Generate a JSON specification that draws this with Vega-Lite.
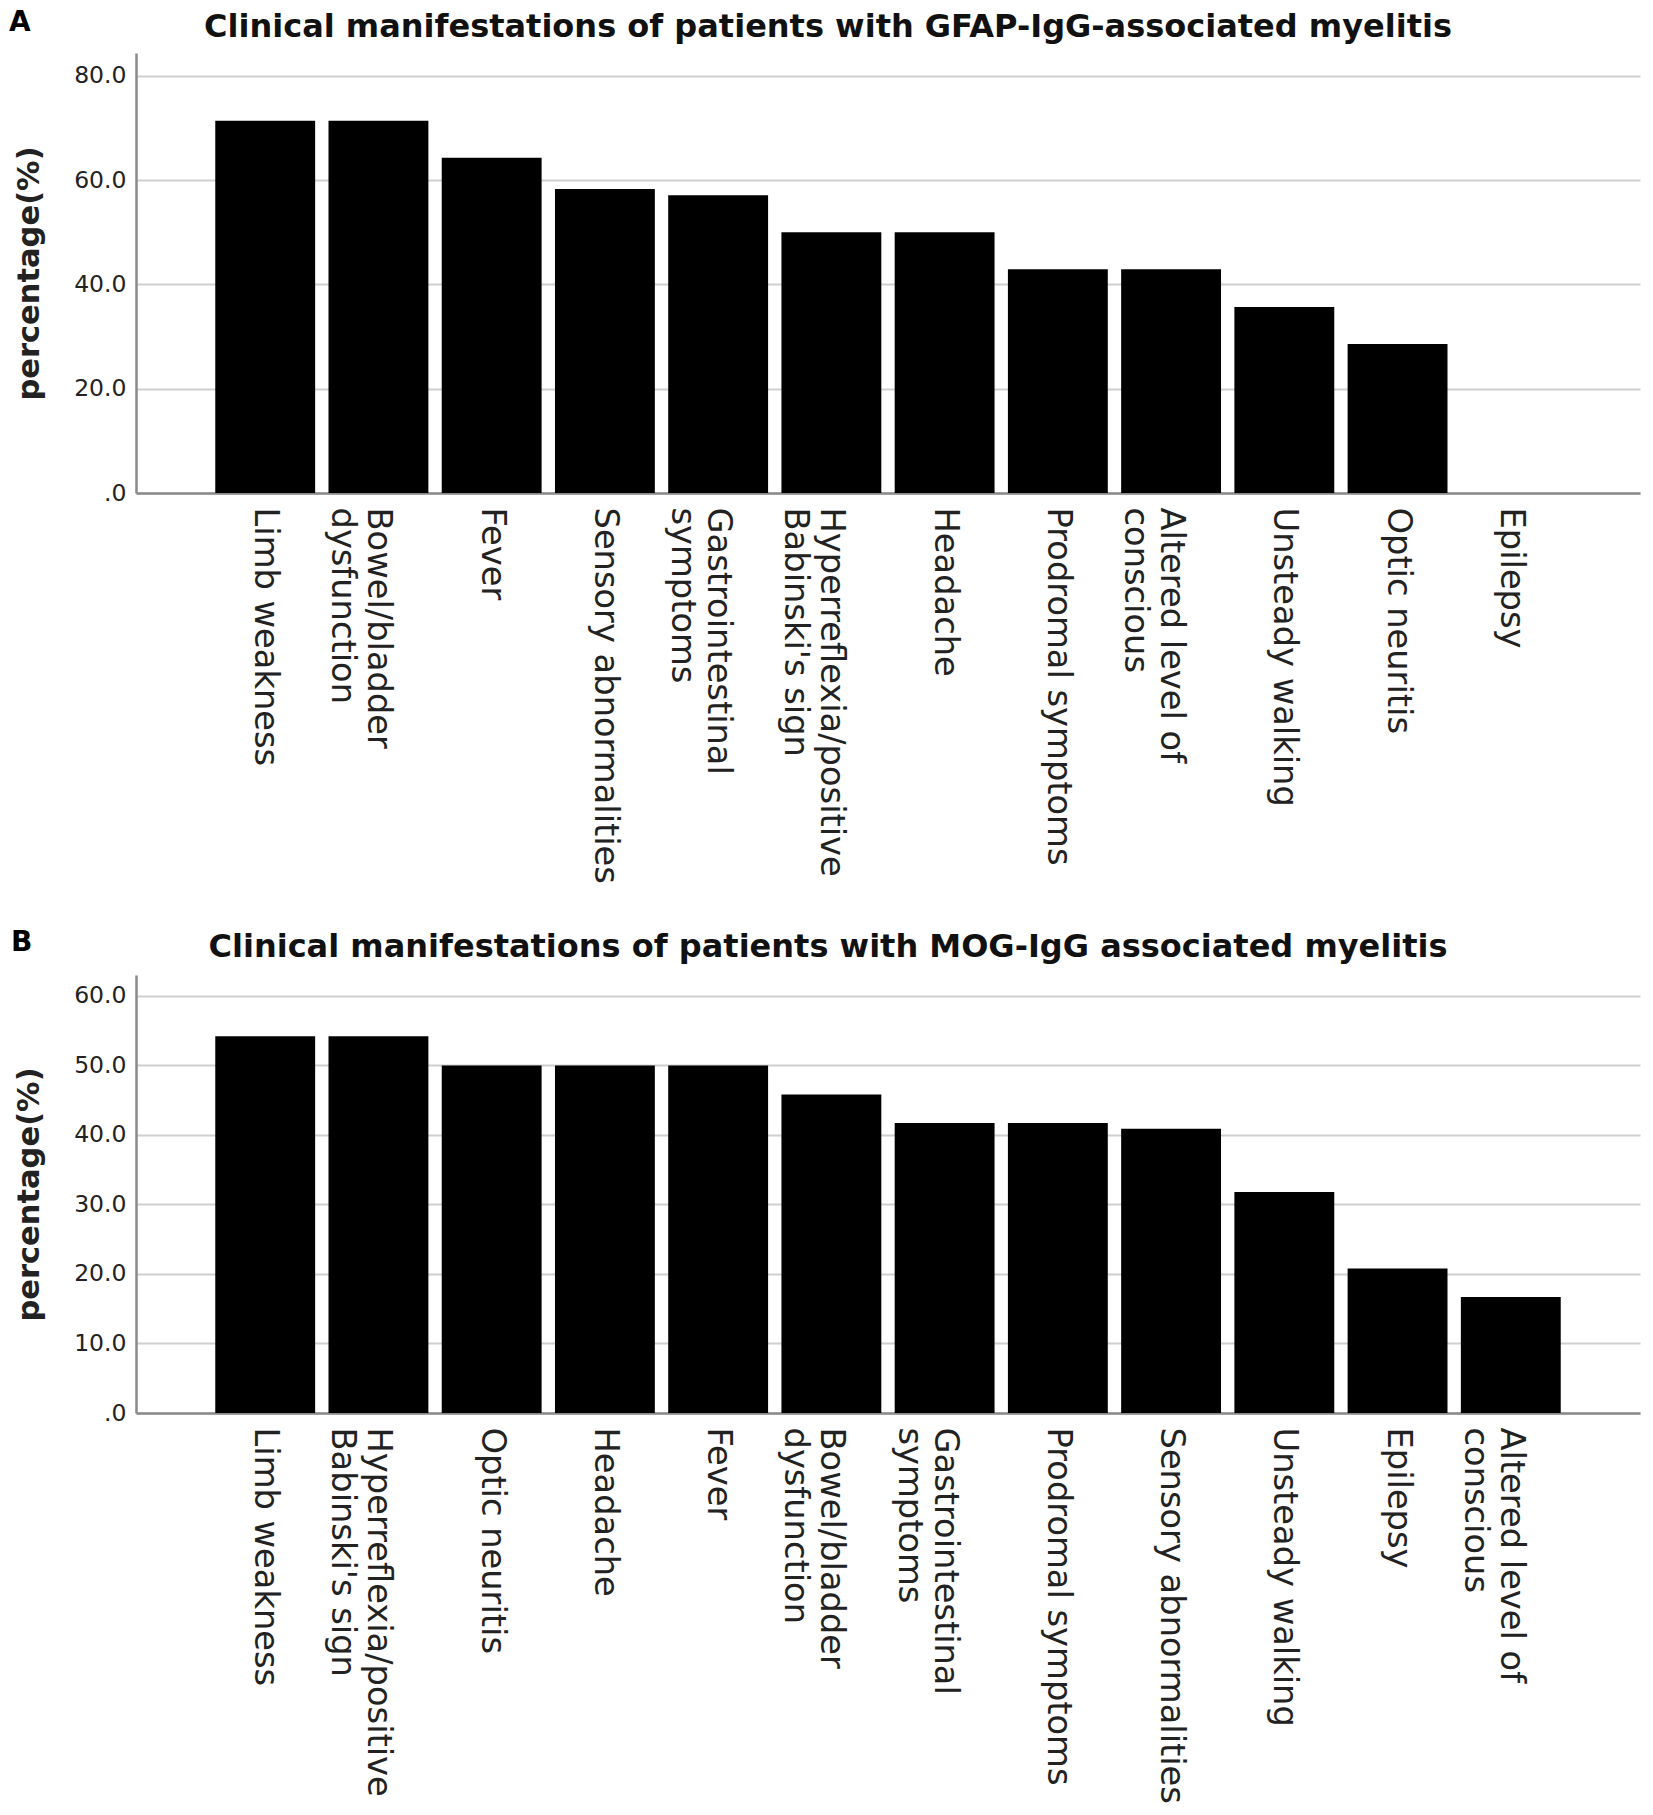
{
  "$schema": "https://vega.github.io/schema/vega-lite/v6.json",
  "background": "white",
  "padding": {"left": 8, "top": 9, "right": 5, "bottom": 0},
  "spacing": 45,
  "config": {
    "font": "DejaVu Sans",
    "view": {"stroke": null},
    "axis": {"labelColor": "#222222", "titleColor": "#222222"},
    "title": {"color": "#111111"}
  },
  "datasets": {
    "gfap": [
      {"symptom": "Limb weakness", "pct": 71.4},
      {"symptom": "Bowel/bladder dysfunction", "pct": 71.4},
      {"symptom": "Fever", "pct": 64.3},
      {"symptom": "Sensory abnormalities", "pct": 58.3},
      {"symptom": "Gastrointestinal symptoms", "pct": 57.1},
      {"symptom": "Hyperreflexia/positive Babinski's sign", "pct": 50.0},
      {"symptom": "Headache", "pct": 50.0},
      {"symptom": "Prodromal symptoms", "pct": 42.9},
      {"symptom": "Altered level of conscious", "pct": 42.9},
      {"symptom": "Unsteady walking", "pct": 35.7},
      {"symptom": "Optic neuritis", "pct": 28.6},
      {"symptom": "Epilepsy", "pct": 0}
    ],
    "mog": [
      {"symptom": "Limb weakness", "pct": 54.2},
      {"symptom": "Hyperreflexia/positive Babinski's sign", "pct": 54.2},
      {"symptom": "Optic neuritis", "pct": 50.0},
      {"symptom": "Headache", "pct": 50.0},
      {"symptom": "Fever", "pct": 50.0},
      {"symptom": "Bowel/bladder dysfunction", "pct": 45.8},
      {"symptom": "Gastrointestinal symptoms", "pct": 41.7},
      {"symptom": "Prodromal symptoms", "pct": 41.7},
      {"symptom": "Sensory abnormalities", "pct": 40.9},
      {"symptom": "Unsteady walking", "pct": 31.8},
      {"symptom": "Epilepsy", "pct": 20.8},
      {"symptom": "Altered level of conscious", "pct": 16.7}
    ]
  },
  "vconcat": [
    {
      "title": {"text": "A", "anchor": "start", "offset": -26, "baseline": "top", "dx": -5, "fontSize": 28, "fontWeight": "bold", "color": "#000000"},
      "vconcat": [
        {
          "data": {"name": "gfap"},
          "width": 1504,
          "height": 440,
          "title": {"text": "Clinical manifestations of patients with GFAP-IgG-associated myelitis", "anchor": "middle", "offset": -16, "dx": -60, "baseline": "alphabetic", "fontSize": 32, "fontWeight": "bold"},
          "mark": {"type": "bar", "color": "#000000"},
          "encoding": {
            "x": {
              "field": "symptom", "type": "nominal", "sort": null,
              "scale": {"paddingInner": 0.118, "paddingOuter": 0.7},
              "axis": {
                "title": null, "labelAngle": 90, "labelAlign": "left", "labelBaseline": "middle",
                "labelFontSize": 33.7, "labelLineHeight": 36, "labelPadding": 14, "labelLimit": 1000,
                "ticks": false, "domainColor": "#8a8a8a", "domainWidth": 2.5,
                "labelExpr": "datum.label == 'Bowel/bladder dysfunction' ? ['Bowel/bladder', 'dysfunction'] : datum.label == 'Gastrointestinal symptoms' ? ['Gastrointestinal', 'symptoms'] : indexof(datum.label, 'Hyperreflexia') == 0 ? ['Hyperreflexia/positive', \"Babinski's sign\"] : datum.label == 'Altered level of conscious' ? ['Altered level of', 'conscious'] : datum.label"
              }
            },
            "y": {
              "field": "pct", "type": "quantitative",
              "scale": {"domain": [0, 84.4], "nice": false},
              "axis": {
                "title": "percentage(%)", "titleFontSize": 30.5, "titleFontWeight": "bold",
                "titleX": -107, "titleY": 220, "titleAlign": "center", "titleBaseline": "middle", "titleAngle": -90,
                "values": [0, 20, 40, 60, 80],
                "labelExpr": "datum.value == 0 ? '.0' : format(datum.value, '.1f')",
                "labelFontSize": 23.5, "labelPadding": 10, "ticks": false,
                "domainColor": "#8a8a8a", "domainWidth": 2.5,
                "grid": true, "gridColor": "#cfcfcf", "gridWidth": 2
              }
            }
          }
        }
      ]
    },
    {
      "title": {"text": "B", "anchor": "start", "offset": -26, "baseline": "top", "dx": -3, "fontSize": 28, "fontWeight": "bold", "color": "#000000"},
      "vconcat": [
        {
          "data": {"name": "mog"},
          "width": 1504,
          "height": 438,
          "title": {"text": "Clinical manifestations of patients with MOG-IgG associated myelitis", "anchor": "middle", "offset": -14, "dx": -60, "baseline": "alphabetic", "fontSize": 32, "fontWeight": "bold"},
          "mark": {"type": "bar", "color": "#000000"},
          "encoding": {
            "x": {
              "field": "symptom", "type": "nominal", "sort": null,
              "scale": {"paddingInner": 0.118, "paddingOuter": 0.7},
              "axis": {
                "title": null, "labelAngle": 90, "labelAlign": "left", "labelBaseline": "middle",
                "labelFontSize": 33.7, "labelLineHeight": 36, "labelPadding": 14, "labelLimit": 1000,
                "ticks": false, "domainColor": "#8a8a8a", "domainWidth": 2.5,
                "labelExpr": "datum.label == 'Bowel/bladder dysfunction' ? ['Bowel/bladder', 'dysfunction'] : datum.label == 'Gastrointestinal symptoms' ? ['Gastrointestinal', 'symptoms'] : indexof(datum.label, 'Hyperreflexia') == 0 ? ['Hyperreflexia/positive', \"Babinski's sign\"] : datum.label == 'Altered level of conscious' ? ['Altered level of', 'conscious'] : datum.label"
              }
            },
            "y": {
              "field": "pct", "type": "quantitative",
              "scale": {"domain": [0, 63], "nice": false},
              "axis": {
                "title": "percentage(%)", "titleFontSize": 30.5, "titleFontWeight": "bold",
                "titleX": -107, "titleY": 219, "titleAlign": "center", "titleBaseline": "middle", "titleAngle": -90,
                "values": [0, 10, 20, 30, 40, 50, 60],
                "labelExpr": "datum.value == 0 ? '.0' : format(datum.value, '.1f')",
                "labelFontSize": 23.5, "labelPadding": 10, "ticks": false,
                "domainColor": "#8a8a8a", "domainWidth": 2.5,
                "grid": true, "gridColor": "#cfcfcf", "gridWidth": 2
              }
            }
          }
        }
      ]
    }
  ]
}
